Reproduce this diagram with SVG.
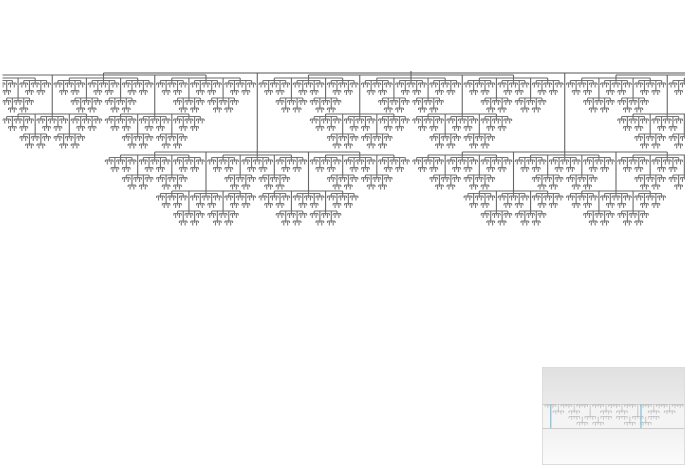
<svg xmlns="http://www.w3.org/2000/svg" width="688" height="469" viewBox="0 0 688 469">
<style>
path{fill:none}
.r{stroke:#555;stroke-width:1}
.g{stroke:#666;stroke-width:1.1}
.c{stroke:#6c6c6c;stroke-width:1.1}
.u{stroke:#747474;stroke-width:1.1}
.s{stroke:#7a7a7a;stroke-width:1.1}
.m{stroke:#b4b4b4;stroke-width:.7}
</style>
<defs>
<clipPath id="view"><rect x="2.5" y="60" width="682.5" height="180"/></clipPath>
<linearGradient id="top" x1="0" y1="0" x2="0" y2="1"><stop offset="0" stop-color="#e0e0e0"/><stop offset="1" stop-color="#ebebeb"/></linearGradient>
<linearGradient id="bot" x1="0" y1="0" x2="0" y2="1"><stop offset="0" stop-color="#f1f1f1"/><stop offset="1" stop-color="#fbfbfb"/></linearGradient>
<g id="S"><path class="s" d="M-3.8 0H3.8M-3.8 0V2M0 0V2M3.8 0V2M-1.9 0V4.6M1.9 0V4.6"/></g>
<g id="U"><path class="u" d="M-11.39 0H11.39M-11.39 0V2.5M0 0V2.5M11.39 0V2.5M-5.7 0V10M5.7 0V10"/>
<use href="#S" x="-11.39" y="2.5"/><use href="#S" y="2.5"/><use href="#S" x="11.39" y="2.5"/><use href="#S" x="-5.7" y="10"/><use href="#S" x="5.7" y="10"/></g>
<g id="C"><path class="c" d="M-34.17 0H34.17M-34.17 0V2.5M0 0V2.5M34.17 0V2.5M-17.08 0V20M17.08 0V20"/>
<use href="#U" x="-34.17" y="2.5"/><use href="#U" y="2.5"/><use href="#U" x="34.17" y="2.5"/><use href="#U" x="-17.08" y="20"/><use href="#U" x="17.08" y="20"/></g>
<g id="G"><path class="g" d="M-102.5 0H102.5M-102.5 0V3M0 0V3M102.5 0V3M-51.25 0V39M51.25 0V39"/>
<use href="#C" x="-102.5" y="3"/><use href="#C" y="3"/><use href="#C" x="102.5" y="3"/><use href="#C" x="-51.25" y="39"/><use href="#C" x="51.25" y="39"/></g>
<g id="mc"><path class="m" d="M-5.3 0H5.3M-5.3 0V2M0 0V2M5.3 0V2M-2.6 0V3.2M2.6 0V3.2"/></g>
<g id="mg"><use href="#mc" x="-15.9"/><use href="#mc"/><use href="#mc" x="15.9"/><use href="#mc" x="-7.95" y="6"/><use href="#mc" x="7.95" y="6"/><path class="m" d="M-7.95 0V6M7.95 0V6"/></g>
</defs>
<rect width="688" height="469" fill="#fff"/>
<g clip-path="url(#view)">
<g id="connectors"><path class="r" d="M411 71V73M103.5 73H685M103.5 73V75M257.25 73V152M411 73V75M564.75 73V152M718.5 73V75"/></g>
<g id="branch-1"><use href="#G" x="103.5" y="75"/></g>
<g id="branch-2"><use href="#G" x="411" y="75"/></g>
<g id="branch-3"><use href="#G" x="718.5" y="75"/></g>
<g id="branch-4"><use href="#G" x="257.25" y="152"/></g>
<g id="branch-5"><use href="#G" x="564.75" y="152"/></g>
</g>
<g id="minimap">
<rect x="542.5" y="367.5" width="142" height="37" fill="url(#top)"/>
<rect x="542.5" y="404.5" width="142" height="24" fill="#f4f4f4"/>
<rect x="542.5" y="428.5" width="142" height="36" fill="url(#bot)"/>
<rect x="542.5" y="367.5" width="142" height="97" fill="none" stroke="#ddd"/>
<path d="M542.5 404.5H684.5M542.5 428.5H684.5" fill="none" stroke="#ccc"/>
<use href="#mg" x="566.3" y="405"/><use href="#mg" x="614" y="405"/><use href="#mg" x="661.7" y="405"/>
<use href="#mg" x="590.2" y="416.5"/><use href="#mg" x="637.8" y="416.5"/>
<path class="m" d="M590.2 405V416.5M637.8 405V416.5"/>
<path d="M550.7 404.5V428M641 404.5V428" fill="none" stroke="#8ec6da" stroke-width="1.4"/>
</g>
</svg>
